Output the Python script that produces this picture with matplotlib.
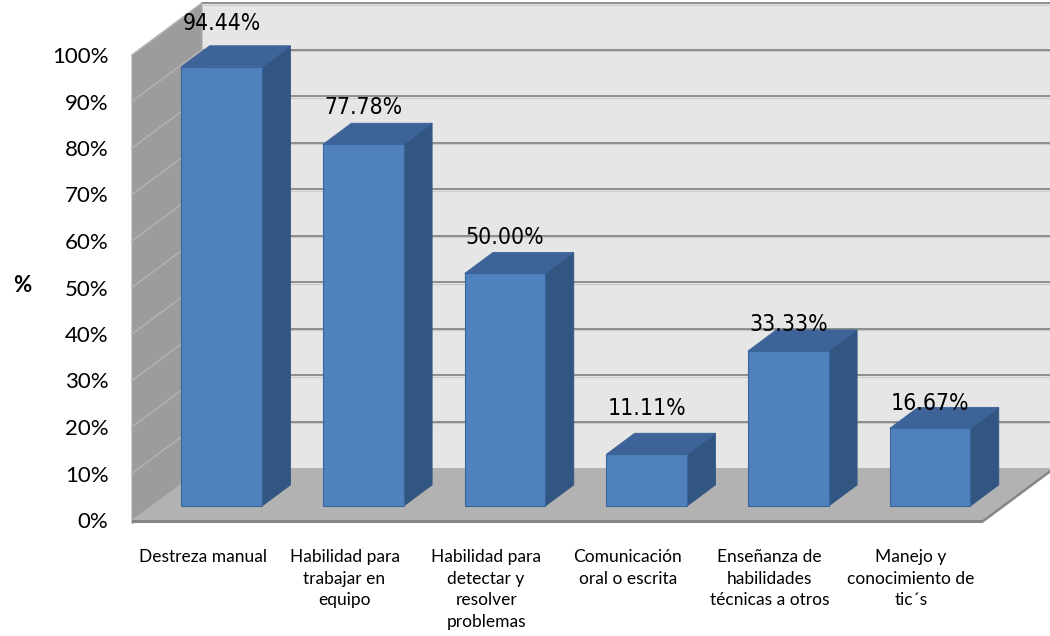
import matplotlib
matplotlib.use("Agg")
import matplotlib.pyplot as plt
from matplotlib.patches import Polygon

# Chart data
categories = [
    "Destreza manual",
    "Habilidad para\ntrabajar en\nequipo",
    "Habilidad para\ndetectar y\nresolver\nproblemas",
    "Comunicación\noral o escrita",
    "Enseñanza de\nhabilidades\ntécnicas a otros",
    "Manejo y\nconocimiento de\ntic´s",
]
values = [94.44, 77.78, 50.00, 11.11, 33.33, 16.67]
y_ticks = list(range(0, 101, 10))
y_tick_labels = [f"{v}%" for v in y_ticks]

# Label lift above each bar's front top edge (pixels)
label_lift_px = [43, 37, 36, 46, 26, 25]

# Oblique depth vector in data units (full depth of the floor)
DX, DY = 0.494, 11.18
BAR_W = 0.57
D_FRONT, D_BACK = 0.27, 0.675

C_WALL = "#E6E6E6"
C_SIDE = "#9C9C9C"
C_SIDE_GRID = "#B4B4B4"
C_FLOOR = "#B2B2B2"
C_FLOOR_EDGE = "#868686"
C_GRID = "#8E8E8E"
C_FRONT = "#4F81BD"
C_TOP = "#3D6399"
C_SIDEBAR = "#325682"
C_BAR_EDGE = "#3A659A"

W, H = 1050, 636
fig = plt.figure(figsize=(W / 100, H / 100), dpi=100)
ax = fig.add_axes([132 / W, (H - 520) / H, 850 / W, 465 / H])
ax.set_xlim(0, 6)
ax.set_ylim(0, 100)
ax.patch.set_visible(False)
for s in ax.spines.values():
    s.set_visible(False)


def P(x, y, d):
    return (x + d * DX, y + d * DY)


def poly(pts, fc, ec="none", lw=0.0, z=1):
    ax.add_patch(Polygon(pts, closed=True, facecolor=fc, edgecolor=ec,
                         linewidth=lw, clip_on=False, zorder=z,
                         joinstyle="miter"))


n = len(values)
# back wall
poly([P(0, 0, 1), P(n, 0, 1), P(n, 100, 1), P(0, 100, 1)], C_WALL, z=1)
# left side wall
poly([P(0, -0.8, 0), P(0, 100, 0), P(0, 100, 1), P(0, 0, 1)], C_SIDE,
     ec="#A8A8A8", lw=0.8, z=1)
# gridlines on back wall and side wall
for v in y_ticks[1:]:
    x0, y0 = P(0, v, 1)
    x1, y1 = P(n, v, 1)
    ax.plot([x0, x1], [y0 - 0.35, y1 - 0.35], color="#CACACA", lw=0.8,
            clip_on=False, zorder=2)
    ax.plot([x0, x1], [y0, y1], color=C_GRID, lw=1.4, clip_on=False, zorder=2)
    a, b = P(0, v, 0), P(0, v, 1)
    ax.plot([a[0], b[0]], [a[1], b[1]], color=C_SIDE_GRID, lw=1.0,
            clip_on=False, zorder=2)
# floor: top surface plus thin front/right edges
TH = 0.75
poly([P(0, 0, 0), P(n, 0, 0), P(n, 0, 1), P(0, 0, 1)], C_FLOOR, z=3)
poly([P(0, 0, 0), P(n, 0, 0), P(n, -TH, 0), P(0, -TH, 0)], C_FLOOR_EDGE, z=3)
poly([P(n, 0, 0), P(n, 0, 1), P(n, -TH, 1), P(n, -TH, 0)], C_FLOOR_EDGE, z=3)

# bars
for i, v in enumerate(values):
    c = i + 0.5
    xa, xb = c - BAR_W / 2, c + BAR_W / 2
    poly([P(xb, 0, D_FRONT), P(xb, 0, D_BACK), P(xb, v, D_BACK), P(xb, v, D_FRONT)],
         C_SIDEBAR, ec=C_SIDEBAR, lw=0.6, z=5)
    poly([P(xa, v, D_FRONT), P(xb, v, D_FRONT), P(xb, v, D_BACK), P(xa, v, D_BACK)],
         C_TOP, ec=C_TOP, lw=0.6, z=5)
    poly([P(xa, 0, D_FRONT), P(xb, 0, D_FRONT), P(xb, v, D_FRONT), P(xa, v, D_FRONT)],
         C_FRONT, ec=C_BAR_EDGE, lw=0.8, z=6)
    ax.annotate(f"{v:.2f}%", xy=P(c, v, D_FRONT), xytext=(0, label_lift_px[i]),
                textcoords="offset pixels", ha="center", va="center",
                fontsize=16.5, family="DejaVu Sans", fontstretch="condensed",
                color="black", zorder=8, annotation_clip=False)

ax.set_yticks(y_ticks)
ax.set_yticklabels(y_tick_labels, fontsize=16, family="Lato")
ax.set_xticks([i + 0.5 for i in range(n)])
ax.set_xticklabels(categories, fontsize=12.5, family="Lato", va="top",
                   linespacing=1.42)
ax.tick_params(axis="y", length=0, pad=17)
ax.tick_params(axis="x", length=0, pad=21)

# vertical axis title
fig.text(22 / W, 1 - 286 / H, "%", fontsize=16, family="Lato",
         fontweight="bold", ha="center", va="center")

fig.savefig("out.png", dpi=100)
